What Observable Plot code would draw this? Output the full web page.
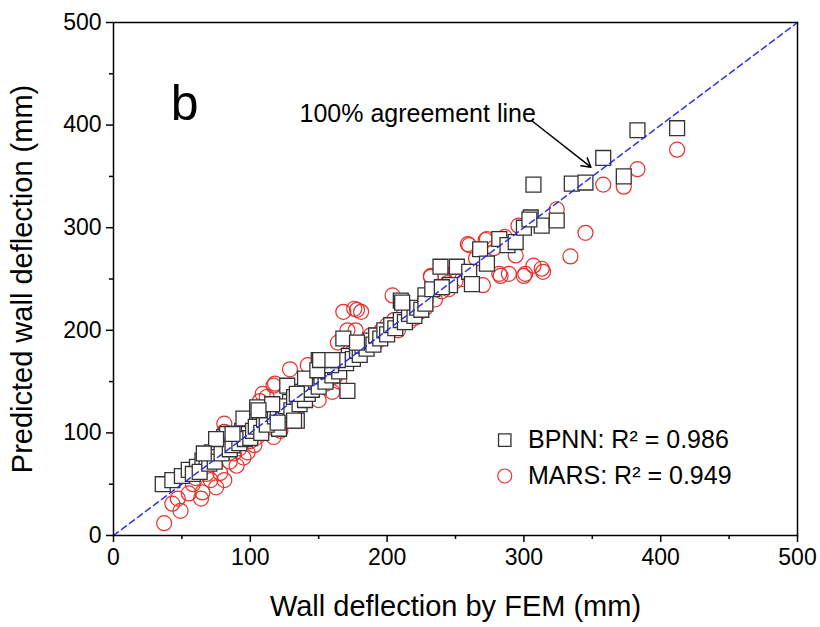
<!DOCTYPE html>
<html><head><meta charset="utf-8">
<script src="https://cdn.jsdelivr.net/npm/d3@7"></script>
<script src="https://cdn.jsdelivr.net/npm/@observablehq/plot@0.6"></script>
<style>
html,body{margin:0;padding:0;background:#fff;}
#chart{width:820px;height:627px;}
svg{font-family:"Liberation Sans",Arial,sans-serif;}
</style></head>
<body><div id="chart"></div>
<script>
// Tick values
const majorTicks = [0, 100, 200, 300, 400, 500];
const minorTicks = [50, 150, 250, 350, 450];

// Axis titles
const xTitle = ["Wall deflection by FEM (mm)"];
const yTitle = ["Predicted wall deflection (mm)"];

// BPNN predictions (FEM, predicted)
const bpnnFEM = [36,43,50,55,61,65,68,72,75,77,81,83,88,90,94,95,99,105,107,115,116,121,127,129,134,
  58,63,70,74,79,85,87,92,96,100,102,104,108,110,112,118,120,124,126,130,132,136,138,140,142,145,148,150,152,155,157,160,162,165,166,170,172,175,178,180,182,185,188,190,192,195,198,200,203,206,210,213,216,220,222,225,
  140,150,159,164,171,105,116,134,149,168,178,151,160,106,120,132,75,87,66,
  210,228,211,228,239,233,251,260,262,246,240,268,273,282,288,294,300,305,313,304,324,307,335,345,373,358,383,412];
const bpnnPred = [50,54,58,64,67,73,76,81,86,91,96,99,91,97,102,114,99,120,110,124,109,104,146,130,112,
  60,62,70,72,80,84,88,90,94,95,102,106,100,113,108,116,122,118,126,122,135,128,140,132,138,142,150,145,155,150,160,156,164,160,170,168,175,172,180,176,185,182,190,186,195,192,200,196,205,202,210,208,216,214,222,220,
  153,171,166,171,141,125,128,138,161,192,188,171,171,122,110,112,94,99,80,
  229,234,227,226,262,240,262,257,245,244,242,279,265,289,283,286,300,310,302,308,307,342,343,344,350,368,395,397];

// MARS predictions (FEM, predicted)
const marsFEM = [37,43,49,47,55,64,65,71,75,81,78,90,95,98,103,111,117,122,81,81,107,112,117,118,109,129,142,164,171,168,181,177,204,232,259,272,176,178,
  58,60,68,85,88,92,100,105,108,114,120,125,128,132,135,138,144,148,152,155,158,162,166,170,174,180,184,188,192,196,200,205,208,212,216,220,224,228,235,240,245,250,255,
  383,373,358,324,345,334,313,307,301,289,283,294,273,260,232,270,412,300,314,282,
  265,278,250,244,286,296,160,150,165];
const marsPred = [12,31,24,36,41,36,42,54,47,54,61,68,76,81,88,104,96,102,101,109,131,135,146,148,138,162,166,188,200,218,218,200,234,252,284,288,221,220,
  50,56,60,72,80,85,92,96,100,110,115,120,126,130,125,135,140,146,150,148,160,155,165,172,178,185,182,195,188,200,205,210,200,215,208,212,218,222,230,238,240,248,250,
  357,340,342,318,295,272,260,263,255,255,253,273,289,283,253,244,376,253,257,255,
  270,280,258,246,291,302,140,132,150];

// Legend entries
const legendNames = ["BPNN: R² = 0.986", "MARS: R² = 0.949"];

// Annotations
const panelLabel = ["b"];
const agreementText = ["100% agreement line"];
const refLineX = [0, 500];
const refLineY = [0, 500];

const bpnn = bpnnFEM.map((x, i) => ({x, y: bpnnPred[i]}));
const mars = marsFEM.map((x, i) => ({x, y: marsPred[i]}));
const refLine = refLineX.map((x, i) => ({x, y: refLineY[i]}));

const red = "#e8302c";
const dark = "#333";

const chart = Plot.plot({
  width: 820,
  height: 627,
  marginLeft: 113,
  marginRight: 23,
  marginTop: 22,
  marginBottom: 92,
  style: {fontFamily: "Liberation Sans, Arial, sans-serif", fontSize: "23px", color: "#000", background: "#fff"},
  x: {domain: [0, 500]},
  y: {domain: [0, 500]},
  marks: [
    // minor ticks
    Plot.axisX({ticks: minorTicks, tickSize: 4, tickFormat: () => "", label: null, strokeWidth: 1.5}),
    Plot.axisY({ticks: minorTicks, tickSize: 4, tickFormat: () => "", label: null, strokeWidth: 1.5}),
    // major ticks
    Plot.axisX({ticks: majorTicks, tickSize: 7, tickPadding: 6, fontSize: 23, label: null, strokeWidth: 1.5}),
    Plot.axisY({ticks: majorTicks, tickSize: 7, tickPadding: 5, fontSize: 23, label: null, strokeWidth: 1.5}),
    Plot.text(xTitle, {frameAnchor: "bottom", dy: 71, text: d => d, fontSize: 29, textAnchor: "middle", lineAnchor: "middle", fill: "#000"}),
    Plot.text(yTitle, {frameAnchor: "left", dx: -91, rotate: -90, text: d => d, fontSize: 29, textAnchor: "middle", lineAnchor: "middle", fill: "#000"}),
    Plot.dot(mars, {x: "x", y: "y", r: 7.5, stroke: red, strokeWidth: 1.2, fill: "none"}),
    Plot.dot(bpnn, {x: "x", y: "y", symbol: "square", r: 8.4, stroke: dark, strokeWidth: 1.3, fill: "white"}),
    Plot.line(refLine, {x: "x", y: "y", stroke: "#2a2ae0", strokeWidth: 1.5, strokeDasharray: "6,4"}),
    Plot.frame({stroke: "#000", strokeWidth: 1.5}),
    Plot.text(panelLabel, {x: 52, y: 421, text: d => d, fontSize: 50, textAnchor: "middle", fill: "#000"}),
    Plot.text(agreementText, {x: 136, y: 411, text: d => d, fontSize: 25, textAnchor: "start", fill: "#000"}),
    Plot.arrow([0], {x1: 306, y1: 404, x2: 349, y2: 359, stroke: "#000", strokeWidth: 1.5, headLength: 10}),
    Plot.dot([legendNames[0]], {x: 286, y: 93, symbol: "square", r: 7, stroke: dark, strokeWidth: 1.3, fill: "white"}),
    Plot.dot([legendNames[1]], {x: 286, y: 58, r: 7, stroke: red, strokeWidth: 1.2, fill: "none"}),
    Plot.text(legendNames, {x: 303, y: (d, i) => [93, 58][i], text: d => d, fontSize: 25, textAnchor: "start", fill: "#000"})
  ]
});
document.getElementById("chart").appendChild(chart);
</script>
</body></html>
